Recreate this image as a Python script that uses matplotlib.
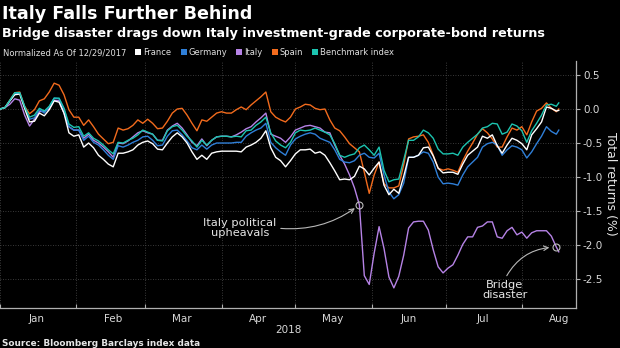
import matplotlib
matplotlib.use('Agg')  # no display, just write the png
import matplotlib.pyplot as plt
import matplotlib.dates as mdates
from matplotlib.patches import Rectangle
import pandas as pd

plt.rcParams['axes.unicode_minus'] = False
plt.rcParams['font.family'] = ['DejaVu Sans']

W, H = 620, 348  # output size in pixels (dpi=100)

dates = list(pd.date_range('2018-01-01', '2018-08-15', freq='2D')) + [pd.Timestamp('2018-08-16')]

france = [
    0.00, 0.02, 0.12, 0.21, 0.22, 0.01, -0.19, -0.18, -0.06, -0.10,
    -0.01, 0.12, 0.10, -0.06, -0.35, -0.40, -0.38, -0.56, -0.50, -0.57,
    -0.68, -0.74, -0.81, -0.85, -0.65, -0.65, -0.63, -0.60, -0.53, -0.49,
    -0.47, -0.51, -0.59, -0.60, -0.50, -0.41, -0.35, -0.41, -0.50, -0.63,
    -0.74, -0.68, -0.74, -0.65, -0.63, -0.62, -0.62, -0.62, -0.62, -0.63,
    -0.56, -0.53, -0.49, -0.43, -0.32, -0.57, -0.71, -0.76, -0.85, -0.76,
    -0.66, -0.60, -0.60, -0.59, -0.65, -0.63, -0.68, -0.79, -0.91, -1.04,
    -1.03, -1.04, -0.99, -0.84, -0.88, -0.97, -0.87, -0.78, -1.12, -1.26,
    -1.18, -1.24, -0.99, -0.71, -0.71, -0.68, -0.57, -0.56, -0.69, -0.87,
    -0.94, -0.93, -0.93, -0.96, -0.81, -0.68, -0.62, -0.56, -0.40, -0.43,
    -0.38, -0.54, -0.65, -0.53, -0.43, -0.46, -0.51, -0.60, -0.38, -0.29,
    -0.19, 0.03, 0.01, -0.03, -0.02,
]
germany = [
    0.00, 0.02, 0.12, 0.22, 0.24, 0.03, -0.15, -0.13, -0.01, -0.06,
    0.03, 0.16, 0.15, 0.00, -0.26, -0.31, -0.31, -0.46, -0.40, -0.49,
    -0.53, -0.60, -0.68, -0.74, -0.54, -0.56, -0.53, -0.49, -0.46, -0.41,
    -0.40, -0.46, -0.54, -0.53, -0.40, -0.32, -0.31, -0.38, -0.47, -0.57,
    -0.60, -0.53, -0.59, -0.53, -0.50, -0.50, -0.50, -0.50, -0.49, -0.49,
    -0.40, -0.35, -0.31, -0.28, -0.21, -0.49, -0.57, -0.63, -0.68, -0.53,
    -0.44, -0.40, -0.37, -0.35, -0.37, -0.43, -0.46, -0.49, -0.60, -0.74,
    -0.78, -0.79, -0.76, -0.68, -0.65, -0.71, -0.72, -0.65, -0.97, -1.22,
    -1.32, -1.26, -1.09, -0.71, -0.71, -0.68, -0.63, -0.65, -0.78, -1.00,
    -1.10, -1.09, -1.10, -1.12, -0.97, -0.85, -0.78, -0.71, -0.56, -0.51,
    -0.49, -0.53, -0.68, -0.60, -0.54, -0.56, -0.60, -0.72, -0.63, -0.51,
    -0.40, -0.26, -0.33, -0.37, -0.31,
]
italy = [
    0.00, 0.02, 0.07, 0.15, 0.13, -0.09, -0.25, -0.15, -0.04, -0.03,
    0.00, 0.13, 0.12, -0.06, -0.26, -0.31, -0.31, -0.43, -0.37, -0.46,
    -0.50, -0.56, -0.63, -0.71, -0.50, -0.51, -0.47, -0.41, -0.35, -0.32,
    -0.35, -0.37, -0.46, -0.46, -0.31, -0.25, -0.21, -0.28, -0.38, -0.49,
    -0.54, -0.44, -0.54, -0.46, -0.41, -0.40, -0.40, -0.41, -0.38, -0.34,
    -0.29, -0.26, -0.19, -0.13, -0.06, -0.37, -0.40, -0.43, -0.49, -0.41,
    -0.31, -0.28, -0.25, -0.24, -0.26, -0.28, -0.34, -0.35, -0.53, -0.68,
    -0.81, -0.97, -1.16, -1.41, -2.45, -2.58, -2.12, -1.73, -2.05, -2.47,
    -2.63, -2.46, -2.15, -1.75, -1.66, -1.65, -1.65, -1.78, -2.07, -2.32,
    -2.41, -2.34, -2.29, -2.15, -1.99, -1.88, -1.88, -1.74, -1.72, -1.66,
    -1.66, -1.88, -1.90, -1.79, -1.74, -1.85, -1.81, -1.90, -1.82, -1.79,
    -1.79, -1.79, -1.87, -2.03, -2.10,
]
spain = [
    0.00, 0.02, 0.13, 0.24, 0.25, 0.04, -0.07, -0.01, 0.12, 0.15,
    0.25, 0.38, 0.35, 0.21, -0.01, -0.12, -0.12, -0.24, -0.16, -0.26,
    -0.37, -0.44, -0.51, -0.49, -0.28, -0.31, -0.29, -0.24, -0.16, -0.21,
    -0.15, -0.21, -0.29, -0.28, -0.18, -0.06, 0.00, 0.01, -0.09, -0.21,
    -0.32, -0.16, -0.18, -0.12, -0.06, -0.04, -0.06, -0.06, -0.01, 0.03,
    -0.01, 0.06, 0.12, 0.18, 0.25, -0.04, -0.12, -0.16, -0.19, -0.12,
    0.00, 0.03, 0.07, 0.06, 0.01, -0.01, 0.00, -0.16, -0.28, -0.32,
    -0.41, -0.51, -0.57, -0.63, -0.93, -1.24, -0.97, -0.78, -1.10, -1.16,
    -1.16, -1.13, -0.82, -0.44, -0.41, -0.40, -0.38, -0.49, -0.68, -0.87,
    -0.90, -0.88, -0.90, -0.93, -0.76, -0.62, -0.50, -0.37, -0.29, -0.35,
    -0.44, -0.56, -0.56, -0.41, -0.28, -0.31, -0.26, -0.38, -0.19, -0.03,
    0.01, 0.09, 0.01, -0.04, 0.00,
]
benchmark = [
    0.00, 0.02, 0.13, 0.24, 0.24, 0.04, -0.12, -0.09, 0.01, -0.03,
    0.04, 0.16, 0.16, 0.01, -0.22, -0.27, -0.26, -0.40, -0.35, -0.43,
    -0.47, -0.53, -0.60, -0.66, -0.49, -0.50, -0.46, -0.43, -0.38, -0.31,
    -0.34, -0.37, -0.46, -0.47, -0.32, -0.26, -0.24, -0.31, -0.40, -0.47,
    -0.56, -0.46, -0.53, -0.46, -0.41, -0.40, -0.40, -0.41, -0.40, -0.41,
    -0.32, -0.31, -0.24, -0.19, -0.12, -0.35, -0.47, -0.53, -0.57, -0.49,
    -0.35, -0.31, -0.32, -0.31, -0.28, -0.31, -0.34, -0.38, -0.51, -0.68,
    -0.71, -0.68, -0.66, -0.57, -0.53, -0.60, -0.68, -0.56, -0.90, -1.07,
    -1.04, -1.03, -0.75, -0.46, -0.46, -0.41, -0.31, -0.35, -0.43, -0.59,
    -0.66, -0.66, -0.65, -0.68, -0.56, -0.49, -0.43, -0.37, -0.28, -0.26,
    -0.21, -0.22, -0.37, -0.34, -0.22, -0.25, -0.32, -0.49, -0.32, -0.21,
    -0.09, 0.06, 0.07, 0.04, 0.09,
]

legend_order = ['France', 'Germany', 'Italy', 'Spain', 'Benchmark index']
draw_order = ['Italy', 'Spain', 'Germany', 'France', 'Benchmark index']
colors = {
    'France': '#ffffff',
    'Germany': '#2f7fd8',
    'Italy': '#b683e6',
    'Spain': '#f26b1d',
    'Benchmark index': '#1cc4b0',
}
y_ticks = [0.5, 0.0, -0.5, -1.0, -1.5, -2.0, -2.5]

# events marked on the Italy line
political_date = pd.Timestamp('2018-05-27')
bridge_date = pd.Timestamp('2018-08-15')

df = pd.DataFrame({
    'France': france,
    'Germany': germany,
    'Italy': italy,
    'Spain': spain,
    'Benchmark index': benchmark,
}, index=pd.DatetimeIndex(dates))


def px(x, y):
    """pixel position (from top-left) -> figure fraction"""
    return x / W, 1 - y / H


fig = plt.figure(figsize=(W / 100, H / 100), dpi=100, facecolor='black')
ax = fig.add_axes([0, 40 / H, 576 / W, 247 / H], facecolor='black')

for name in draw_order:
    ax.plot(df.index, df[name], color=colors[name], lw=1.0, solid_joinstyle='round')

ax.set_xlim(pd.Timestamp('2018-01-01'), pd.Timestamp('2018-08-23'))
ax.set_ylim(-2.926, 0.706)

# month boundaries carry the grid, month names sit mid-month
ax.xaxis.set_major_locator(mdates.MonthLocator())
ax.xaxis.set_major_formatter(plt.NullFormatter())
ax.xaxis.set_minor_locator(mdates.MonthLocator(bymonthday=16))
ax.xaxis.set_minor_formatter(mdates.DateFormatter('%b'))
ax.tick_params(axis='x', which='major', direction='in', length=3, color='#b0b0b0')
ax.tick_params(axis='x', which='minor', length=0, labelsize=7.5, labelcolor='#d8d8d8', pad=4)

ax.yaxis.tick_right()
ax.set_yticks(y_ticks)
ax.set_yticklabels([f'{v:.1f}' for v in y_ticks])
ax.tick_params(axis='y', direction='out', length=3, color='#b0b0b0',
               labelsize=7.5, labelcolor='#d8d8d8', pad=2)

ax.grid(True, which='major', color='#4d4d4d', linestyle=(0, (1, 2)), lw=0.6)
for side in ['top', 'left']:
    ax.spines[side].set_visible(False)
for side in ['bottom', 'right']:
    ax.spines[side].set_color('#b0b0b0')
    ax.spines[side].set_linewidth(0.9)

# annotations
arrow_style = dict(arrowstyle='->', color='#b8b8b8', lw=0.8, shrinkA=1)
v_pol = df.loc[political_date, 'Italy']
v_bri = df.loc[bridge_date, 'Italy']
ax.plot([political_date, bridge_date], [v_pol, v_bri], 'o', mfc='none',
        mec='#bbbbbb', ms=5, mew=0.8)
ax.annotate('Italy political\nupheavals', xy=(political_date, v_pol),
            xytext=(pd.Timestamp('2018-04-08 12:00'), -1.75),
            ha='center', va='center', fontsize=8.2, color='#e6e6e6', linespacing=1.05,
            arrowprops=dict(arrow_style, relpos=(1.0, 0.5), shrinkB=4,
                            connectionstyle='arc3,rad=0.2'))
ax.annotate('Bridge\ndisaster', xy=(bridge_date, v_bri),
            xytext=(pd.Timestamp('2018-07-25'), -2.66),
            ha='center', va='center', fontsize=8.2, color='#e6e6e6', linespacing=1.05,
            arrowprops=dict(arrow_style, relpos=(0.5, 1.0), shrinkB=5,
                            connectionstyle='arc3,rad=-0.3'))

# titles and footer
fig.text(*px(2, 19), 'Italy Falls Further Behind', fontsize=12.6, fontweight='bold',
         color='white', va='baseline')
fig.text(*px(2, 37), 'Bridge disaster drags down Italy investment-grade corporate-bond returns',
         fontsize=9.2, fontweight='bold', color='white', va='baseline')
fig.text(*px(288, 333), '2018', fontsize=7.5, color='#d8d8d8', ha='center', va='baseline')
fig.text(*px(2, 346), 'Source: Bloomberg Barclays index data', fontsize=6.4,
         fontweight='bold', color='#e6e6e6', va='baseline')
fig.text(*px(610, 184), 'Total returns (%)', fontsize=9, color='#e6e6e6',
         rotation=270, ha='center', va='center')

# legend row, laid out left to right from measured text widths
renderer = fig.canvas.get_renderer()
x = 3
t = fig.text(*px(x, 55), 'Normalized As Of 12/29/2017', fontsize=6, color='#e0e0e0', va='baseline')
x += t.get_window_extent(renderer).width + 9
for name in legend_order:
    fig.patches.append(Rectangle(px(x, 55), 6 / W, 6 / H, transform=fig.transFigure,
                                 facecolor=colors[name], edgecolor='none'))
    t = fig.text(*px(x + 8, 55), name, fontsize=6, color='#e0e0e0', va='baseline')
    x += 8 + t.get_window_extent(renderer).width + 9

fig.savefig('out.png', dpi=100, facecolor='black')
